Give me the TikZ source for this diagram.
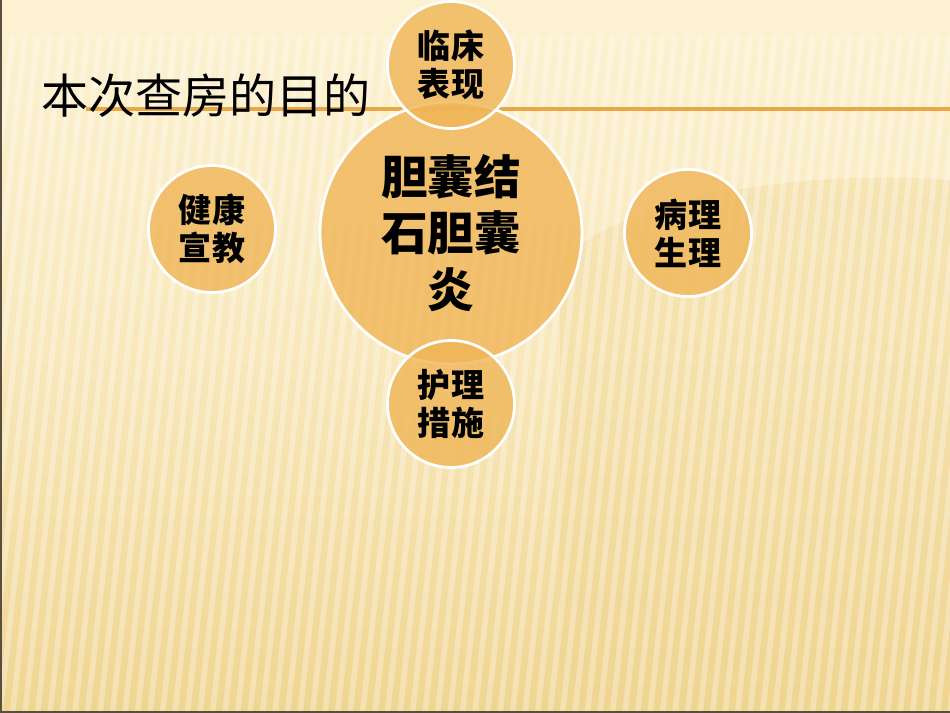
\documentclass[tikz,border=0pt]{standalone}
\usepackage{fontspec}
\newfontfamily\cjk{Noto Sans CJK SC}
\usetikzlibrary{positioning}
\definecolor{bglight}{HTML}{FCF2D2}
\definecolor{bgdark}{HTML}{F0D591}
\definecolor{ballfill}{HTML}{F0B556}
\definecolor{rulecol}{HTML}{E9A845}
\definecolor{framecol}{HTML}{5A4E3E}
\tikzset{
    ball/.style={circle, draw=white, line width=1.6pt, fill=ballfill, fill opacity=0.8, text opacity=1, inner sep=0pt, align=center},
    smallball/.style={ball, minimum size=2.54cm, font=\cjk\bfseries\fontsize{18.8}{21.5}\selectfont},
    bigball/.style={ball, minimum size=5.24cm, font=\cjk\bfseries\fontsize{26.5}{32}\selectfont},
}

\begin{document}
\begin{tikzpicture}[x=0.02cm, y=-0.02cm]
    \useasboundingbox (0,0) rectangle (950,713);
    % background
    \shade[top color=bglight, bottom color=bgdark, middle color=bglight!65!bgdark] (0,0) rectangle (950,713);
    \fill[bglight] (0,0) rectangle (950,32);
    \fill[bgdark, opacity=0.35] (560,713) -- (560,260) .. controls (640,190) and (820,170) .. (950,180) -- (950,713) -- cycle;
    \foreach \i in {-12,...,80}
        \draw[white, opacity=0.3, line width=3.2pt] (\i*12.5,713) -- (\i*12.5+75,36);
    % frame
    \draw[framecol, line width=1.4pt] (0.6,0) -- (0.6,712.4) -- (950,712.4);
    % title and rule
    \draw[rulecol, line width=2.2pt] (86,109) -- (950,109);
    \node[anchor=west, font=\cjk\fontsize{26.8}{30}\selectfont, inner sep=0pt] (title) at (41,96) {本次查房的目的};
    % circles
    \node[bigball] (core) at (451,233) {胆囊结\\石胆囊\\炎};
    \node[smallball] (clinic) at (451,65) {临床\\表现};
    \node[smallball] (nursing) at (451,404) {护理\\措施};
    \node[smallball] (health) at (212,229) {健康\\宣教};
    \node[smallball] (patho) at (688,233) {病理\\生理};
\end{tikzpicture}
\end{document}
